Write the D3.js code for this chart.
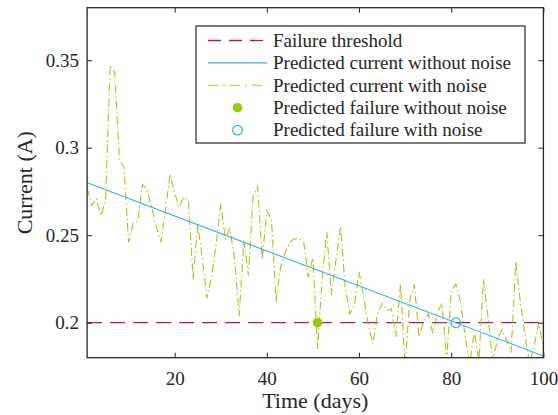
<!DOCTYPE html>
<html>
<head>
<meta charset="utf-8">
<script src="https://cdn.jsdelivr.net/npm/d3@7"></script>
<style>
  html, body { margin: 0; padding: 0; background: #fff; }
  svg { display: block; }
  svg text { font-family: "Liberation Serif", "Times New Roman", serif !important; fill: #262626; }
</style>
</head>
<body>
<svg id="chart" width="558" height="415"></svg>
<script>
// ---- data ----
const days = d3.range(1, 101);
const noisyCurrent = [
  0.277, 0.267, 0.271, 0.261, 0.270, 0.347, 0.343, 0.293, 0.289, 0.246,
  0.257, 0.258, 0.279, 0.276, 0.266, 0.255, 0.246, 0.264, 0.285, 0.274,
  0.266, 0.272, 0.269, 0.225, 0.256, 0.237, 0.214, 0.226, 0.245, 0.268,
  0.248, 0.254, 0.236, 0.204, 0.247, 0.227, 0.272, 0.278, 0.236, 0.264,
  0.259, 0.212, 0.232, 0.240, 0.246, 0.248, 0.248, 0.246, 0.226, 0.237,
  0.185, 0.225, 0.252, 0.216, 0.236, 0.255, 0.220, 0.205, 0.210, 0.229,
  0.215, 0.199, 0.188, 0.205, 0.211, 0.207, 0.208, 0.192, 0.222, 0.175,
  0.213, 0.222, 0.192, 0.201, 0.205, 0.194, 0.206, 0.211, 0.178, 0.218,
  0.222, 0.212, 0.193, 0.176, 0.195, 0.178, 0.225, 0.203, 0.178, 0.190,
  0.196, 0.190, 0.183, 0.235, 0.212, 0.193, 0.176, 0.187, 0.200, 0.185
];
const cleanDays = [1, 100];
const cleanCurrent = [0.280, 0.181];
const thresholdDays = [1, 100];
const thresholdValue = [0.2, 0.2];
const failureNoNoise = [51, 0.2];
const failureNoise = [81, 0.2];
const xTicks = [20, 40, 60, 80, 100];
const yTicks = [0.2, 0.25, 0.3, 0.35];
const legendLabels = [
  "Failure threshold",
  "Predicted current without noise",
  "Predicted current with noise",
  "Predicted failure without noise",
  "Predicted failure with noise"
];

// ---- style ----
const C_THRESH = "#c0106a";
const C_CLEAN = "#2eb2e6";
const C_NOISY = "#a6c814";
const C_FILL = "#99cc00";
const AX = "#262626";
const SERIF = '"Liberation Serif", "Times New Roman", serif';

const svg = d3.select("#chart");
const L = 87.1, R = 543.4, T = 7.7, B = 357.7;
const x = d3.scaleLinear().domain([1, 100]).range([L, R]);
const y = d3.scaleLinear().domain([0.18, 0.38]).range([B, T]);

svg.append("defs").append("clipPath").attr("id", "clip")
  .append("rect").attr("x", L).attr("y", T).attr("width", R - L).attr("height", B - T);

const plot = svg.append("g").attr("clip-path", "url(#clip)");

// threshold
plot.append("path")
  .datum(thresholdDays.map((d, i) => [d, thresholdValue[i]]))
  .attr("d", d3.line().x(d => x(d[0])).y(d => y(d[1])))
  .attr("fill", "none").attr("stroke", C_THRESH).attr("stroke-width", 1.3)
  .attr("stroke-dasharray", "15,8");

// noisy
plot.append("path")
  .datum(days.map((d, i) => [d, noisyCurrent[i]]))
  .attr("d", d3.line().x(d => x(d[0])).y(d => y(d[1])))
  .attr("fill", "none").attr("stroke", C_NOISY).attr("stroke-width", 1.1)
  .attr("stroke-dasharray", "8,3,1.5,3");

// clean
plot.append("path")
  .datum(cleanDays.map((d, i) => [d, cleanCurrent[i]]))
  .attr("d", d3.line().x(d => x(d[0])).y(d => y(d[1])))
  .attr("fill", "none").attr("stroke", C_CLEAN).attr("stroke-width", 1.1);

// markers
svg.append("circle").attr("cx", x(failureNoNoise[0])).attr("cy", y(failureNoNoise[1]))
  .attr("r", 4.8).attr("fill", C_FILL);
svg.append("circle").attr("cx", x(failureNoise[0])).attr("cy", y(failureNoise[1]))
  .attr("r", 4.8).attr("fill", "none").attr("stroke", C_CLEAN).attr("stroke-width", 1.2);

// axes
const xAxis = d3.axisBottom(x).tickValues(xTicks).tickSizeInner(-5).tickSizeOuter(0).tickPadding(14);
const yAxis = d3.axisLeft(y).tickValues(yTicks).tickSizeInner(-5).tickSizeOuter(0).tickPadding(8)
  .tickFormat(d3.format(""));
const gx = svg.append("g").attr("transform", `translate(0,${B})`).call(xAxis);
const gy = svg.append("g").attr("transform", `translate(${L},0)`).call(yAxis);
const gxt = svg.append("g").attr("transform", `translate(0,${T})`)
  .call(d3.axisTop(x).tickValues(xTicks).tickSizeInner(-5).tickSizeOuter(0).tickFormat(""));
const gyr = svg.append("g").attr("transform", `translate(${R},0)`)
  .call(d3.axisRight(y).tickValues(yTicks).tickSizeInner(-5).tickSizeOuter(0).tickFormat(""));
[gx, gy, gxt, gyr].forEach(g => {
  g.attr("font-family", SERIF).attr("font-size", 19);
  g.select(".domain").remove();
  g.selectAll("line").attr("stroke", AX).attr("stroke-width", 1);
  g.selectAll("text").attr("font-family", SERIF).attr("font-size", 19).attr("fill", AX);
});
svg.append("rect").attr("x", L).attr("y", T).attr("width", R - L).attr("height", B - T)
  .attr("fill", "none").attr("stroke", AX).attr("stroke-width", 1.3);

// axis titles
svg.append("text").attr("x", (L + R) / 2).attr("y", 408).attr("text-anchor", "middle")
  .attr("font-family", SERIF).attr("font-size", 22).text("Time (days)");
svg.append("text").attr("transform", `translate(32,${(T + B) / 2}) rotate(-90)`)
  .attr("text-anchor", "middle").attr("font-family", SERIF).attr("font-size", 22).text("Current (A)");

// legend
const lg = svg.append("g");
lg.append("rect").attr("x", 196).attr("y", 26).attr("width", 329).attr("height", 117)
  .attr("fill", "#fff").attr("stroke", AX).attr("stroke-width", 1.2);
const rowY = i => 40.5 + i * 22.4;
const x0 = 208, x1 = 267;
lg.append("line").attr("x1", x0).attr("x2", x1).attr("y1", rowY(0)).attr("y2", rowY(0))
  .attr("stroke", C_THRESH).attr("stroke-width", 1.3).attr("stroke-dasharray", "13,8");
lg.append("line").attr("x1", x0).attr("x2", x1).attr("y1", rowY(1)).attr("y2", rowY(1))
  .attr("stroke", C_CLEAN).attr("stroke-width", 1.1);
lg.append("line").attr("x1", x0).attr("x2", x1).attr("y1", rowY(2)).attr("y2", rowY(2))
  .attr("stroke", C_NOISY).attr("stroke-width", 1.1).attr("stroke-dasharray", "10,5,2,5");
lg.append("circle").attr("cx", (x0 + x1) / 2).attr("cy", rowY(3)).attr("r", 4.8).attr("fill", C_FILL);
lg.append("circle").attr("cx", (x0 + x1) / 2).attr("cy", rowY(4)).attr("r", 4.8)
  .attr("fill", "none").attr("stroke", C_CLEAN).attr("stroke-width", 1.2);
legendLabels.forEach((t, i) => {
  lg.append("text").attr("x", 273).attr("y", rowY(i)).attr("dy", "0.33em")
    .attr("font-family", SERIF).attr("font-size", 19).text(t);
});
</script>
</body>
</html>
